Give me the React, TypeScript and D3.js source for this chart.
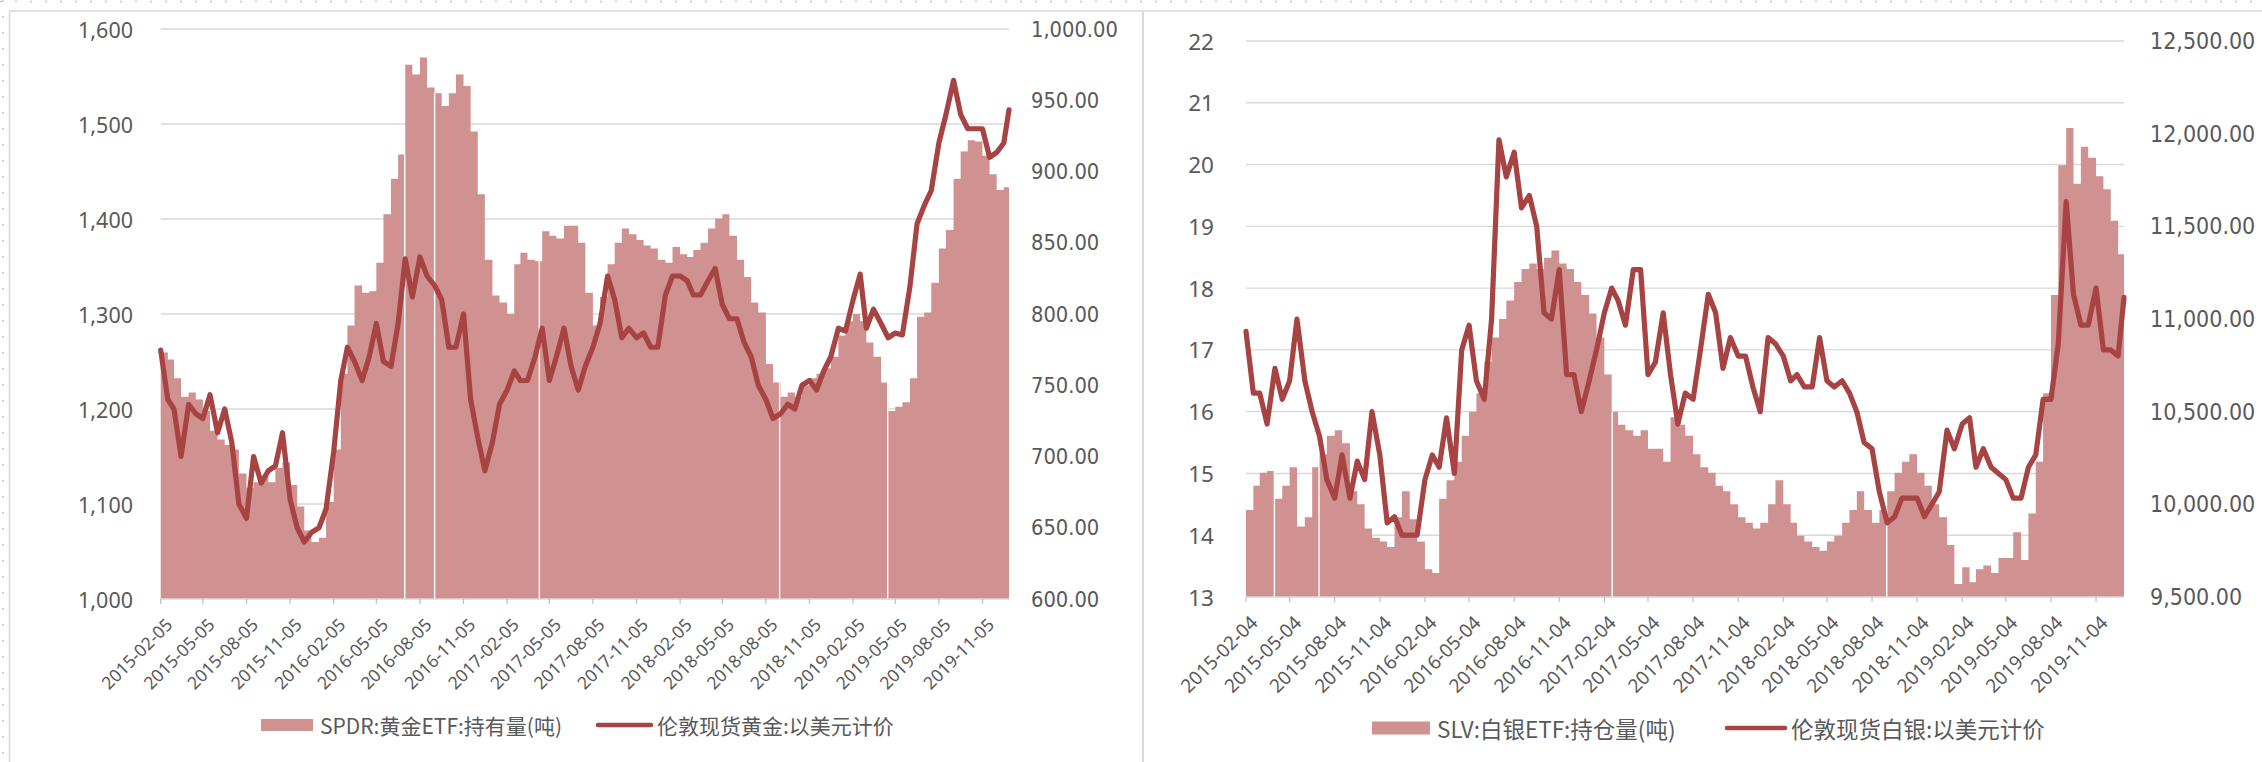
import * as d3 from "d3";

const W = 2262;
const H = 762;

const AREA_FILL = "#D09191";
const LINE_COLOR = "#A84343";
const GRID = "#D9D9D9";
const TEXT = "#595959";

// ---------- gold panel (left) ----------
// sampled on the 5th and 20th of each month, last point 2019-12-31
const spdrHoldings = [
  // 2015 (from Feb)
  773, 768, 755, 742, 745, 740, 732, 718, 712, 708, 705, 688, 678, 682, 686, 682, 692, 696, 680, 665, 648, 640,
  // 2016
  643, 668, 705, 758, 792, 820, 815, 816, 836, 870, 895, 912, 975, 968, 980, 959, 955, 946, 955, 968, 960, 928, 884, 838,
  // 2017
  813, 808, 800, 835, 843, 838, 837, 858, 855, 853, 862, 862, 850, 815, 792, 812, 835, 850, 860, 856, 852, 848, 846, 838,
  // 2018
  836, 847, 842, 840, 845, 850, 860, 867, 870, 855, 838, 826, 808, 801, 765, 752, 742, 745, 742, 750, 755, 758, 762, 770,
  // 2019
  785, 795, 800, 795, 780, 770, 752, 732, 735, 738, 755, 798, 801, 822, 846, 859, 895, 914, 922, 921, 911, 898, 887, 889,
  893,
];

const goldPrice = [
  1262, 1210, 1200, 1150, 1205, 1195, 1190, 1215, 1175, 1200, 1165, 1100, 1085, 1150, 1122, 1135, 1140, 1175, 1105, 1075, 1060, 1070,
  1075, 1095, 1155, 1230, 1265, 1250, 1230, 1255, 1290, 1250, 1245, 1290, 1358, 1318, 1360, 1340, 1330, 1315, 1265, 1265, 1300, 1210, 1170, 1135,
  1165, 1205, 1220, 1240, 1230, 1230, 1255, 1285, 1230, 1255, 1285, 1245, 1220, 1245, 1265, 1290, 1340, 1315, 1275, 1285, 1275, 1280, 1265, 1265,
  1320, 1340, 1340, 1335, 1320, 1320, 1335, 1348, 1310, 1295, 1295, 1270, 1255, 1225, 1210, 1190, 1195, 1205, 1200, 1225, 1230, 1220, 1240, 1255,
  1285, 1282, 1315, 1342, 1285, 1305, 1290, 1275, 1280, 1278, 1329, 1395, 1414, 1430, 1480, 1510, 1546, 1510, 1495, 1495, 1495, 1465, 1470, 1480,
  1515,
];

const goldLeftTicks = [1000, 1100, 1200, 1300, 1400, 1500, 1600];
const goldRightTicks = [600, 650, 700, 750, 800, 850, 900, 950, 1000];
// days without an ETF print (drawn as thin white cuts)
const spdrGapDates = ["2016-07-04", "2016-09-05", "2017-04-14", "2018-09-03", "2019-04-19"];

// ---------- silver panel (right) ----------
// sampled on the 4th and 19th of each month, last point 2019-12-31
const slvHoldings = [
  9970, 10100, 10170, 10180, 10030, 10100, 10200, 9880, 9930, 10200, 10270, 10370, 10400, 10330, 10070, 10000, 9870, 9820, 9800, 9770, 9930, 10070,
  9920, 9800, 9650, 9630, 10030, 10130, 10230, 10370, 10500, 10600, 10770, 10900, 11000, 11100, 11200, 11270, 11300, 11270, 11330, 11370, 11300, 11270, 11200, 11130,
  11030, 10900, 10700, 10500, 10430, 10400, 10370, 10400, 10300, 10300, 10230, 10470, 10430, 10370, 10270, 10200, 10170, 10100, 10070, 10000, 9930, 9900, 9870, 9900,
  10000, 10130, 10000, 9900, 9830, 9800, 9770, 9750, 9800, 9830, 9900, 9970, 10070, 9970, 9900, 9970, 10070, 10170, 10230, 10270, 10170, 10100, 10000, 9930,
  9780, 9570, 9660, 9580, 9650, 9670, 9630, 9710, 9710, 9850, 9700, 9950, 10230, 10600, 11130, 11830, 12030, 11730, 11930, 11870, 11770, 11700, 11530, 11350,
  11310,
];

const silverPrice = [
  17.3, 16.3, 16.3, 15.8, 16.7, 16.2, 16.5, 17.5, 16.5, 16.0, 15.6, 14.9, 14.6, 15.3, 14.6, 15.2, 14.9, 16.0, 15.3, 14.2, 14.3, 14.0,
  14.0, 14.0, 14.9, 15.3, 15.1, 15.9, 15.0, 17.0, 17.4, 16.5, 16.2, 17.5, 20.4, 19.8, 20.2, 19.3, 19.5, 19.0, 17.6, 17.5, 18.3, 16.6, 16.6, 16.0,
  16.5, 17.0, 17.6, 18.0, 17.8, 17.4, 18.3, 18.3, 16.6, 16.8, 17.6, 16.6, 15.8, 16.3, 16.2, 17.0, 17.9, 17.6, 16.7, 17.2, 16.9, 16.9, 16.4, 16.0,
  17.2, 17.1, 16.9, 16.5, 16.6, 16.4, 16.4, 17.2, 16.5, 16.4, 16.5, 16.3, 16.0, 15.5, 15.4, 14.7, 14.2, 14.3, 14.6, 14.6, 14.6, 14.3, 14.5, 14.7,
  15.7, 15.4, 15.8, 15.9, 15.1, 15.4, 15.1, 15.0, 14.9, 14.6, 14.6, 15.1, 15.3, 16.2, 16.2, 17.1, 19.4, 17.9, 17.4, 17.4, 18.0, 17.0, 17.0, 16.9,
  17.85,
];

const silverLeftTicks = [13, 14, 15, 16, 17, 18, 19, 20, 21, 22];
const silverRightTicks = [9500, 10000, 10500, 11000, 11500, 12000, 12500];
const slvGapDates = ["2015-04-03", "2015-07-03", "2017-02-20", "2018-09-03"];

// two samples per month, Feb 2015 .. Dec 2019, plus 2019-12-31
function halfMonthDates(d1: number, d2: number): Date[] {
  const out: Date[] = [];
  for (let y = 2015; y <= 2019; y++) {
    for (let m = y === 2015 ? 1 : 0; m < 12; m++) {
      out.push(new Date(y, m, d1));
      out.push(new Date(y, m, d2));
    }
  }
  out.push(new Date(2019, 11, 31));
  return out;
}

const parseDay = d3.timeParse("%Y-%m-%d");
const fmtDay = d3.timeFormat("%Y-%m-%d");

interface PanelProps {
  dates: Date[];
  holdings: number[];
  price: number[];
  leftTicks: number[];
  rightTicks: number[];
  leftFormat: (v: number) => string;
  rightFormat: (v: number) => string;
  gaps: string[];
  left: number;
  right: number;
  top: number;
  bottom: number;
  leftLabelX: number;
  rightLabelX: number;
  axisFont: number;
  rightFont: number;
  xFont: number;
  legendY: number;
  legendFont: number;
  boxX: number;
  boxW: number;
  boxH: number;
  boxText: string;
  boxTextX: number;
  lineX1: number;
  lineX2: number;
  lineText: string;
  lineTextX: number;
}

function Panel(p: PanelProps) {
  const x = d3
    .scaleTime()
    .domain([p.dates[0], p.dates[p.dates.length - 1]])
    .range([p.left, p.right]);
  const yL = d3
    .scaleLinear()
    .domain([p.leftTicks[0], p.leftTicks[p.leftTicks.length - 1]])
    .range([p.bottom, p.top]);
  const yR = d3
    .scaleLinear()
    .domain([p.rightTicks[0], p.rightTicks[p.rightTicks.length - 1]])
    .range([p.bottom, p.top]);

  const area = d3
    .area<number>()
    .x((_, i) => x(p.dates[i]))
    .y0(p.bottom)
    .y1((d) => yR(d))
    .curve(d3.curveStepAfter);

  const line = d3
    .line<number>()
    .x((_, i) => x(p.dates[i]))
    .y((d) => yL(d));

  //quarterly ticks starting at the first date
  const xTicks = d3.range(20).map((i) => d3.timeMonth.offset(p.dates[0], 3 * i));

  return (
    <g>
      {p.leftTicks.slice(1).map((t) => (
        <line key={t} x1={p.left} x2={p.right} y1={yL(t)} y2={yL(t)} stroke={GRID} strokeWidth={1.4} />
      ))}
      <path d={area(p.holdings) || ""} fill={AREA_FILL} />
      {p.gaps.map((g) => {
        const day = parseDay(g)!;
        const idx = d3.bisectRight(p.dates, day) - 1;
        return (
          <line
            key={g}
            x1={x(day)}
            x2={x(day)}
            y1={yR(p.holdings[idx])}
            y2={p.bottom}
            stroke="#ffffff"
            strokeWidth={1.4}
          />
        );
      })}
      <line x1={p.left} x2={p.right} y1={p.bottom} y2={p.bottom} stroke={GRID} strokeWidth={1.6} />
      {xTicks.map((t) => (
        <g key={+t} transform={`translate(${x(t)},${p.bottom})`}>
          <line y1={0} y2={5} stroke="#BFBFBF" strokeWidth={1.2} />
          <text
            transform="translate(8,22) rotate(-45)"
            textAnchor="end"
            dominantBaseline="central"
            fontFamily="'Noto Sans', sans-serif"
            fontSize={p.xFont}
            fill={TEXT}
          >
            {fmtDay(t)}
          </text>
        </g>
      ))}
      <path
        d={line(p.price) || ""}
        fill="none"
        stroke={LINE_COLOR}
        strokeWidth={5.2}
        strokeLinejoin="round"
        strokeLinecap="round"
      />
      {p.leftTicks.map((t) => (
        <text
          key={t}
          x={p.leftLabelX}
          y={yL(t)}
          textAnchor="end"
          dominantBaseline="central"
          fontFamily="'Noto Sans', sans-serif"
          fontSize={p.axisFont}
          fill={TEXT}
        >
          {p.leftFormat(t)}
        </text>
      ))}
      {p.rightTicks.map((t) => (
        <text
          key={t}
          x={p.rightLabelX}
          y={yR(t)}
          textAnchor="start"
          dominantBaseline="central"
          fontFamily="'DejaVu Sans Condensed', 'DejaVu Sans', sans-serif"
          fontStretch="condensed"
          fontSize={p.rightFont}
          fill={TEXT}
        >
          {p.rightFormat(t)}
        </text>
      ))}
      {/* legend */}
      <rect x={p.boxX} y={p.legendY - p.boxH / 2} width={p.boxW} height={p.boxH} fill={AREA_FILL} />
      <text
        x={p.boxTextX}
        y={p.legendY}
        dominantBaseline="central"
        fontFamily="'Noto Sans CJK SC', sans-serif"
        fontSize={p.legendFont}
        fill={TEXT}
      >
        {p.boxText}
      </text>
      <line
        x1={p.lineX1}
        x2={p.lineX2}
        y1={p.legendY}
        y2={p.legendY}
        stroke={LINE_COLOR}
        strokeWidth={4.5}
        strokeLinecap="round"
      />
      <text
        x={p.lineTextX}
        y={p.legendY}
        dominantBaseline="central"
        fontFamily="'Noto Sans CJK SC', sans-serif"
        fontSize={p.legendFont}
        fill={TEXT}
      >
        {p.lineText}
      </text>
    </g>
  );
}

const goldDates = halfMonthDates(5, 20);
const silverDates = halfMonthDates(4, 19);

export default function App() {
  const comma = d3.format(",");
  const money = d3.format(",.2f");
  return (
    <svg
      width={W}
      height={H}
      style={{ position: "absolute", left: 0, top: 0, background: "#ffffff" }}
    >
      <rect width={W} height={H} fill="#ffffff" />
      {/* outer dotted edges and panel frames */}
      <line x1={0} x2={W} y1={1.5} y2={1.5} stroke="#C8C8C8" strokeWidth={1.5} strokeDasharray="2 13" />
      <line x1={3} x2={3} y1={0} y2={H} stroke="#C8C8C8" strokeWidth={1.5} strokeDasharray="2 14" />
      <line x1={9.5} x2={W} y1={11} y2={11} stroke={GRID} strokeWidth={1.5} />
      <line x1={9.5} x2={9.5} y1={11} y2={H} stroke={GRID} strokeWidth={1.5} />
      <line x1={1143} x2={1143} y1={11} y2={H} stroke={GRID} strokeWidth={2} />

      <Panel
        dates={goldDates}
        holdings={spdrHoldings}
        price={goldPrice}
        leftTicks={goldLeftTicks}
        rightTicks={goldRightTicks}
        leftFormat={comma}
        rightFormat={money}
        gaps={spdrGapDates}
        left={160.7}
        right={1009}
        top={29}
        bottom={599}
        leftLabelX={133}
        rightLabelX={1031}
        axisFont={21.5}
        rightFont={21.7}
        xFont={17.5}
        legendY={725}
        legendFont={21}
        boxX={261}
        boxW={52}
        boxH={12}
        boxText="SPDR:黄金ETF:持有量(吨)"
        boxTextX={320}
        lineX1={598}
        lineX2={651}
        lineText="伦敦现货黄金:以美元计价"
        lineTextX={657}
      />
      <Panel
        dates={silverDates}
        holdings={slvHoldings}
        price={silverPrice}
        leftTicks={silverLeftTicks}
        rightTicks={silverRightTicks}
        leftFormat={comma}
        rightFormat={money}
        gaps={slvGapDates}
        left={1246}
        right={2124}
        top={41}
        bottom={597}
        leftLabelX={1214}
        rightLabelX={2150}
        axisFont={22.5}
        rightFont={23}
        xFont={19}
        legendY={728}
        legendFont={22.5}
        boxX={1372}
        boxW={58}
        boxH={13}
        boxText="SLV:白银ETF:持仓量(吨)"
        boxTextX={1437}
        lineX1={1727}
        lineX2={1785}
        lineText="伦敦现货白银:以美元计价"
        lineTextX={1791}
      />
    </svg>
  );
}
